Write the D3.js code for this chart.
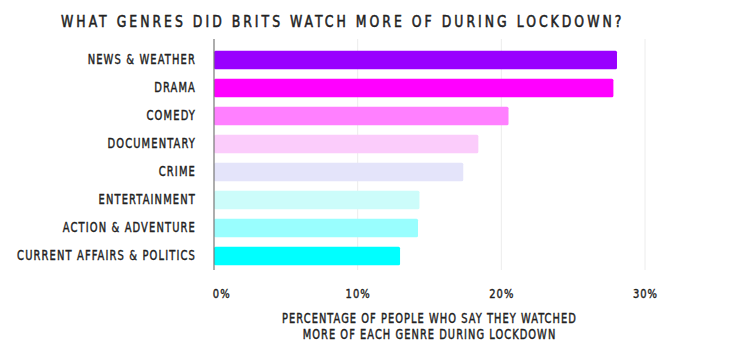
<!DOCTYPE html>
<html>
<head>
<meta charset="utf-8">
<script src="https://cdn.jsdelivr.net/npm/d3@7"></script>
<style>
  body { margin: 0; background: #fff; }
  svg text { font-family: "DejaVu Sans Condensed", "DejaVu Sans", sans-serif; font-stretch: condensed;
             fill: #222; stroke: #222; stroke-width: 0.4px; }
</style>
</head>
<body>
<div id="chart"></div>
<script>
// data
var genres = ["NEWS & WEATHER", "DRAMA", "COMEDY", "DOCUMENTARY", "CRIME",
              "ENTERTAINMENT", "ACTION & ADVENTURE", "CURRENT AFFAIRS & POLITICS"];
var percents = [28.05, 27.8, 20.5, 18.4, 17.35, 14.3, 14.2, 12.95];
var barColors = ["#9900ff", "#ff00ff", "#ff80ff", "#fbccfb", "#e4e4fa", "#ccfcfa", "#99fefe", "#00ffff"];
var xTicks = [0, 10, 20, 30];
var titleText = "WHAT GENRES DID BRITS WATCH MORE OF DURING LOCKDOWN?";
var axisTitle = ["PERCENTAGE OF PEOPLE WHO SAY THEY WATCHED", "MORE OF EACH GENRE DURING LOCKDOWN"];

var W = 743, H = 361;
var margin = {top: 39, right: 98, bottom: 91, left: 214};
var width = W - margin.left - margin.right,
    height = H - margin.top - margin.bottom;

var svg = d3.select("#chart").append("svg")
    .attr("width", W)
    .attr("height", H);

// squeeze a text horizontally so it spans the wanted width
function squeeze(sel, k, anchorX) {
  sel.attr("transform", "translate(" + anchorX + ",0) scale(" + k + ",1) translate(" + (-anchorX) + ",0)");
}

// TITLE
var title = svg.append("text")
  .attr("x", 61)
  .attr("y", 27.5)
  .attr("font-size", 15.5)
  .attr("letter-spacing", 3.4)
  .style("stroke-width", "0.5px")
  .text(titleText);
squeeze(title, 564 / title.node().getComputedTextLength(), 61);

var g = svg.append("g")
  .attr("transform", "translate(" + margin.left + "," + margin.top + ")");

var x = d3.scaleLinear().domain([0, 30]).range([0, 431]);
var y = d3.scaleBand().domain(genres).range([7, 231]).paddingInner(0.34).paddingOuter(0.17);

// grid
g.selectAll(".grid").data(xTicks.slice(1)).enter()
  .append("line")
    .attr("x1", function(d) { return x(d); })
    .attr("x2", function(d) { return x(d); })
    .attr("y1", 0)
    .attr("y2", height)
    .attr("stroke", "#ececec")
    .attr("stroke-width", 1);

// bars
g.selectAll(".bar").data(percents).enter()
  .append("rect")
    .attr("x", 0)
    .attr("y", function(d, i) { return y(genres[i]); })
    .attr("width", function(d) { return x(d); })
    .attr("height", y.bandwidth())
    .attr("rx", 1.5)
    .attr("fill", function(d, i) { return barColors[i]; });

// y axis line
g.append("line")
  .attr("x1", 0).attr("x2", 0)
  .attr("y1", 0).attr("y2", height)
  .attr("stroke", "#777")
  .attr("stroke-width", 1.2);

// category labels
var yAxis = g.append("g").call(d3.axisLeft(y).tickSize(0).tickPadding(18));
yAxis.select(".domain").remove();
var labs = yAxis.selectAll("text")
  .attr("font-size", 13.5)
  .attr("letter-spacing", 1.4)
  .attr("fill", "#222");
// same squeeze for all labels, taken from the longest one
var longest = labs.filter(function(d) { return d === genres[7]; });
squeeze(labs, 179 / longest.node().getComputedTextLength(), -18);

// x tick labels
var xAxis = g.append("g")
  .attr("transform", "translate(0," + height + ")")
  .call(d3.axisBottom(x).tickValues(xTicks).tickSize(0).tickPadding(19)
    .tickFormat(function(d) { return d + "%"; }));
xAxis.select(".domain").remove();
var tl = xAxis.selectAll("text")
  .attr("font-size", 13)
  .attr("letter-spacing", 1.2)
  .attr("fill", "#222");
tl.filter(function(d) { return d === 0; }).attr("text-anchor", "start").attr("x", -2);
squeeze(tl, 0.85, 0);

// axis title
var cx = margin.left + x(15);
var at = svg.append("text")
  .attr("y", 323)
  .attr("text-anchor", "middle")
  .attr("font-size", 13.5)
  .attr("letter-spacing", 1.3);
at.selectAll("tspan").data(axisTitle).enter()
  .append("tspan")
    .attr("x", cx)
    .attr("dy", function(d, i) { return i ? 16.5 : 0; })
    .text(function(d) { return d; });
squeeze(at, 295 / at.select("tspan").node().getComputedTextLength(), cx);
</script>
</body>
</html>
